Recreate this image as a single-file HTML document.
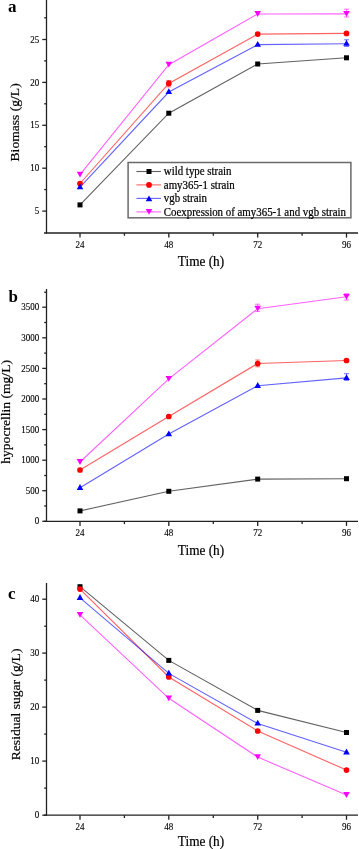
<!DOCTYPE html><html><head><meta charset="utf-8"><style>html,body{margin:0;padding:0;background:#fff;}svg{display:block;will-change:transform;}#w{width:359px;height:849px;overflow:hidden;}</style></head><body><div id="w">
<svg width="359" height="849" viewBox="0 0 359 849" font-family='"Liberation Serif", serif'>
<rect width="359" height="849" fill="#fff"/>
<g stroke="#f0f" stroke-width="1" stroke-opacity="0.55" fill="none"><line x1="344.0" y1="9.2" x2="349.0" y2="9.2"/><line x1="344.0" y1="17.0" x2="349.0" y2="17.0"/><line x1="346.5" y1="9.2" x2="346.5" y2="17.0"/></g>
<g stroke="#00f" stroke-width="1" stroke-opacity="0.55" fill="none"><line x1="344.0" y1="39.8" x2="349.0" y2="39.8"/><line x1="344.0" y1="46.4" x2="349.0" y2="46.4"/><line x1="346.5" y1="39.8" x2="346.5" y2="46.4"/></g>
<g stroke="#f00" stroke-width="1" stroke-opacity="0.55" fill="none"><line x1="166.3" y1="80.5" x2="171.3" y2="80.5"/><line x1="166.3" y1="86.9" x2="171.3" y2="86.9"/><line x1="168.8" y1="80.5" x2="168.8" y2="86.9"/></g>
<g stroke="#f0f" stroke-width="1" stroke-opacity="0.55" fill="none"><line x1="255.2" y1="304.2" x2="260.2" y2="304.2"/><line x1="255.2" y1="311.5" x2="260.2" y2="311.5"/><line x1="257.7" y1="304.2" x2="257.7" y2="311.5"/></g>
<g stroke="#f00" stroke-width="1" stroke-opacity="0.55" fill="none"><line x1="255.2" y1="360.0" x2="260.2" y2="360.0"/><line x1="255.2" y1="366.8" x2="260.2" y2="366.8"/><line x1="257.7" y1="360.0" x2="257.7" y2="366.8"/></g>
<g stroke="#00f" stroke-width="1" stroke-opacity="0.55" fill="none"><line x1="344.0" y1="373.7" x2="349.0" y2="373.7"/><line x1="344.0" y1="380.3" x2="349.0" y2="380.3"/><line x1="346.5" y1="373.7" x2="346.5" y2="380.3"/></g>
<g stroke="#f0f" stroke-width="1" stroke-opacity="0.55" fill="none"><line x1="344.0" y1="293.7" x2="349.0" y2="293.7"/><line x1="344.0" y1="300.0" x2="349.0" y2="300.0"/><line x1="346.5" y1="293.7" x2="346.5" y2="300.0"/></g>
<polyline points="80.00,204.90 168.80,113.20 257.70,64.00 346.50,57.80" fill="none" stroke="#000" stroke-width="1.1" stroke-opacity="0.62"/>
<polyline points="80.00,183.50 168.80,83.40 257.70,34.10 346.50,33.40" fill="none" stroke="#f00" stroke-width="1.1" stroke-opacity="0.62"/>
<polyline points="80.00,187.10 168.80,92.00 257.70,44.60 346.50,43.70" fill="none" stroke="#00f" stroke-width="1.1" stroke-opacity="0.62"/>
<polyline points="80.00,174.60 168.80,64.70 257.70,14.00 346.50,13.90" fill="none" stroke="#f0f" stroke-width="1.1" stroke-opacity="0.62"/>
<rect x="77.50" y="202.40" width="5.0" height="5.0" fill="#000000"/>
<rect x="166.30" y="110.70" width="5.0" height="5.0" fill="#000000"/>
<rect x="255.20" y="61.50" width="5.0" height="5.0" fill="#000000"/>
<rect x="344.00" y="55.30" width="5.0" height="5.0" fill="#000000"/>
<circle cx="80.00" cy="183.50" r="2.85" fill="#ff0000"/>
<circle cx="168.80" cy="83.40" r="2.85" fill="#ff0000"/>
<circle cx="257.70" cy="34.10" r="2.85" fill="#ff0000"/>
<circle cx="346.50" cy="33.40" r="2.85" fill="#ff0000"/>
<polygon points="80.00,183.40 83.30,189.20 76.70,189.20" fill="#0000ff"/>
<polygon points="168.80,88.30 172.10,94.10 165.50,94.10" fill="#0000ff"/>
<polygon points="257.70,40.90 261.00,46.70 254.40,46.70" fill="#0000ff"/>
<polygon points="346.50,40.00 349.80,45.80 343.20,45.80" fill="#0000ff"/>
<polygon points="76.70,171.70 83.30,171.70 80.00,177.50" fill="#ff00ff"/>
<polygon points="165.50,61.80 172.10,61.80 168.80,67.60" fill="#ff00ff"/>
<polygon points="254.40,11.10 261.00,11.10 257.70,16.90" fill="#ff00ff"/>
<polygon points="343.20,11.00 349.80,11.00 346.50,16.80" fill="#ff00ff"/>
<g stroke="#222" stroke-width="1.3" fill="none">
<line x1="46.5" y1="0" x2="46.5" y2="233.6"/>
<line x1="44" y1="233" x2="358" y2="233"/>
<line x1="42.3" y1="39.5" x2="46.5" y2="39.5"/>
<line x1="42.3" y1="82.4" x2="46.5" y2="82.4"/>
<line x1="42.3" y1="125.3" x2="46.5" y2="125.3"/>
<line x1="42.3" y1="168.2" x2="46.5" y2="168.2"/>
<line x1="42.3" y1="211.1" x2="46.5" y2="211.1"/>
<line x1="44.2" y1="17.8" x2="46.5" y2="17.8"/>
<line x1="44.2" y1="60.9" x2="46.5" y2="60.9"/>
<line x1="44.2" y1="103.8" x2="46.5" y2="103.8"/>
<line x1="44.2" y1="146.7" x2="46.5" y2="146.7"/>
<line x1="44.2" y1="189.6" x2="46.5" y2="189.6"/>
<line x1="80" y1="233" x2="80" y2="237.6"/>
<line x1="168.8" y1="233" x2="168.8" y2="237.6"/>
<line x1="257.7" y1="233" x2="257.7" y2="237.6"/>
<line x1="346.5" y1="233" x2="346.5" y2="237.6"/>
<line x1="124.4" y1="233" x2="124.4" y2="235.8"/>
<line x1="213.3" y1="233" x2="213.3" y2="235.8"/>
<line x1="302.1" y1="233" x2="302.1" y2="235.8"/>
</g>
<g font-size="9" fill="#000" stroke="#000" stroke-width="0.12">
<text transform="translate(39.2,42.60) scale(1,1.12)" text-anchor="end">25</text>
<text transform="translate(39.2,85.50) scale(1,1.12)" text-anchor="end">20</text>
<text transform="translate(39.2,128.40) scale(1,1.12)" text-anchor="end">15</text>
<text transform="translate(39.2,171.30) scale(1,1.12)" text-anchor="end">10</text>
<text transform="translate(39.2,214.20) scale(1,1.12)" text-anchor="end">5</text>
<text transform="translate(80,247.80) scale(1,1.12)" text-anchor="middle">24</text>
<text transform="translate(168.8,247.80) scale(1,1.12)" text-anchor="middle">48</text>
<text transform="translate(257.7,247.80) scale(1,1.12)" text-anchor="middle">72</text>
<text transform="translate(346.5,247.80) scale(1,1.12)" text-anchor="middle">96</text>
</g>
<text transform="translate(201,266.1) scale(1,1.06)" text-anchor="middle" font-size="13.3" fill="#000" stroke="#000" stroke-width="0.2">Time (h)</text>
<text transform="translate(18.6,122.4) rotate(-90) scale(1,0.9)" text-anchor="middle" font-size="13.6" fill="#000" stroke="#000" stroke-width="0.2">Biomass (g/L)</text>
<text x="8" y="11.6" font-size="17" font-weight="bold" fill="#000">a</text>
<polyline points="80.00,510.90 168.80,491.30 257.70,479.10 346.50,478.70" fill="none" stroke="#000" stroke-width="1.1" stroke-opacity="0.62"/>
<polyline points="80.00,470.00 168.80,416.50 257.70,363.50 346.50,360.50" fill="none" stroke="#f00" stroke-width="1.1" stroke-opacity="0.62"/>
<polyline points="80.00,487.80 168.80,434.10 257.70,385.80 346.50,377.90" fill="none" stroke="#00f" stroke-width="1.1" stroke-opacity="0.62"/>
<polyline points="80.00,462.00 168.80,378.90 257.70,308.70 346.50,296.80" fill="none" stroke="#f0f" stroke-width="1.1" stroke-opacity="0.62"/>
<rect x="77.50" y="508.40" width="5.0" height="5.0" fill="#000000"/>
<rect x="166.30" y="488.80" width="5.0" height="5.0" fill="#000000"/>
<rect x="255.20" y="476.60" width="5.0" height="5.0" fill="#000000"/>
<rect x="344.00" y="476.20" width="5.0" height="5.0" fill="#000000"/>
<circle cx="80.00" cy="470.00" r="2.85" fill="#ff0000"/>
<circle cx="168.80" cy="416.50" r="2.85" fill="#ff0000"/>
<circle cx="257.70" cy="363.50" r="2.85" fill="#ff0000"/>
<circle cx="346.50" cy="360.50" r="2.85" fill="#ff0000"/>
<polygon points="80.00,484.10 83.30,489.90 76.70,489.90" fill="#0000ff"/>
<polygon points="168.80,430.40 172.10,436.20 165.50,436.20" fill="#0000ff"/>
<polygon points="257.70,382.10 261.00,387.90 254.40,387.90" fill="#0000ff"/>
<polygon points="346.50,374.20 349.80,380.00 343.20,380.00" fill="#0000ff"/>
<polygon points="76.70,459.10 83.30,459.10 80.00,464.90" fill="#ff00ff"/>
<polygon points="165.50,376.00 172.10,376.00 168.80,381.80" fill="#ff00ff"/>
<polygon points="254.40,305.80 261.00,305.80 257.70,311.60" fill="#ff00ff"/>
<polygon points="343.20,293.90 349.80,293.90 346.50,299.70" fill="#ff00ff"/>
<g stroke="#222" stroke-width="1.3" fill="none">
<line x1="46.5" y1="289" x2="46.5" y2="521.9"/>
<line x1="44" y1="521.3" x2="358" y2="521.3"/>
<line x1="42.3" y1="307.2" x2="46.5" y2="307.2"/>
<line x1="42.3" y1="337.8" x2="46.5" y2="337.8"/>
<line x1="42.3" y1="368.4" x2="46.5" y2="368.4"/>
<line x1="42.3" y1="399.0" x2="46.5" y2="399.0"/>
<line x1="42.3" y1="429.6" x2="46.5" y2="429.6"/>
<line x1="42.3" y1="460.2" x2="46.5" y2="460.2"/>
<line x1="42.3" y1="490.7" x2="46.5" y2="490.7"/>
<line x1="42.3" y1="521.3" x2="46.5" y2="521.3"/>
<line x1="44.2" y1="292.2" x2="46.5" y2="292.2"/>
<line x1="44.2" y1="322.5" x2="46.5" y2="322.5"/>
<line x1="44.2" y1="353.1" x2="46.5" y2="353.1"/>
<line x1="44.2" y1="383.7" x2="46.5" y2="383.7"/>
<line x1="44.2" y1="414.3" x2="46.5" y2="414.3"/>
<line x1="44.2" y1="444.9" x2="46.5" y2="444.9"/>
<line x1="44.2" y1="475.5" x2="46.5" y2="475.5"/>
<line x1="44.2" y1="506.0" x2="46.5" y2="506.0"/>
<line x1="80" y1="521.3" x2="80" y2="525.9"/>
<line x1="168.8" y1="521.3" x2="168.8" y2="525.9"/>
<line x1="257.7" y1="521.3" x2="257.7" y2="525.9"/>
<line x1="346.5" y1="521.3" x2="346.5" y2="525.9"/>
<line x1="124.4" y1="521.3" x2="124.4" y2="524.0999999999999"/>
<line x1="213.3" y1="521.3" x2="213.3" y2="524.0999999999999"/>
<line x1="302.1" y1="521.3" x2="302.1" y2="524.0999999999999"/>
</g>
<g font-size="9" fill="#000" stroke="#000" stroke-width="0.12">
<text transform="translate(39.2,310.30) scale(1,1.12)" text-anchor="end">3500</text>
<text transform="translate(39.2,340.90) scale(1,1.12)" text-anchor="end">3000</text>
<text transform="translate(39.2,371.50) scale(1,1.12)" text-anchor="end">2500</text>
<text transform="translate(39.2,402.10) scale(1,1.12)" text-anchor="end">2000</text>
<text transform="translate(39.2,432.70) scale(1,1.12)" text-anchor="end">1500</text>
<text transform="translate(39.2,463.30) scale(1,1.12)" text-anchor="end">1000</text>
<text transform="translate(39.2,493.80) scale(1,1.12)" text-anchor="end">500</text>
<text transform="translate(39.2,524.40) scale(1,1.12)" text-anchor="end">0</text>
<text transform="translate(80,536.40) scale(1,1.12)" text-anchor="middle">24</text>
<text transform="translate(168.8,536.40) scale(1,1.12)" text-anchor="middle">48</text>
<text transform="translate(257.7,536.40) scale(1,1.12)" text-anchor="middle">72</text>
<text transform="translate(346.5,536.40) scale(1,1.12)" text-anchor="middle">96</text>
</g>
<text transform="translate(201,554.5) scale(1,1.06)" text-anchor="middle" font-size="13.3" fill="#000" stroke="#000" stroke-width="0.2">Time (h)</text>
<text transform="translate(10.1,411.9) rotate(-90) scale(1,0.9)" text-anchor="middle" font-size="13.6" fill="#000" stroke="#000" stroke-width="0.2">hypocrellin (mg/L)</text>
<text x="8.6" y="301.9" font-size="17" font-weight="bold" fill="#000">b</text>
<polyline points="80.00,586.70 168.80,660.40 257.70,710.40 346.50,732.50" fill="none" stroke="#000" stroke-width="1.1" stroke-opacity="0.62"/>
<polyline points="80.00,589.10 168.80,677.00 257.70,731.00 346.50,770.10" fill="none" stroke="#f00" stroke-width="1.1" stroke-opacity="0.62"/>
<polyline points="80.00,597.80 168.80,673.40 257.70,723.50 346.50,752.30" fill="none" stroke="#00f" stroke-width="1.1" stroke-opacity="0.62"/>
<polyline points="80.00,614.90 168.80,698.30 257.70,757.10 346.50,795.00" fill="none" stroke="#f0f" stroke-width="1.1" stroke-opacity="0.62"/>
<rect x="77.50" y="584.20" width="5.0" height="5.0" fill="#000000"/>
<rect x="166.30" y="657.90" width="5.0" height="5.0" fill="#000000"/>
<rect x="255.20" y="707.90" width="5.0" height="5.0" fill="#000000"/>
<rect x="344.00" y="730.00" width="5.0" height="5.0" fill="#000000"/>
<circle cx="80.00" cy="589.10" r="2.85" fill="#ff0000"/>
<circle cx="168.80" cy="677.00" r="2.85" fill="#ff0000"/>
<circle cx="257.70" cy="731.00" r="2.85" fill="#ff0000"/>
<circle cx="346.50" cy="770.10" r="2.85" fill="#ff0000"/>
<polygon points="80.00,594.10 83.30,599.90 76.70,599.90" fill="#0000ff"/>
<polygon points="168.80,669.70 172.10,675.50 165.50,675.50" fill="#0000ff"/>
<polygon points="257.70,719.80 261.00,725.60 254.40,725.60" fill="#0000ff"/>
<polygon points="346.50,748.60 349.80,754.40 343.20,754.40" fill="#0000ff"/>
<polygon points="76.70,612.00 83.30,612.00 80.00,617.80" fill="#ff00ff"/>
<polygon points="165.50,695.40 172.10,695.40 168.80,701.20" fill="#ff00ff"/>
<polygon points="254.40,754.20 261.00,754.20 257.70,760.00" fill="#ff00ff"/>
<polygon points="343.20,792.10 349.80,792.10 346.50,797.90" fill="#ff00ff"/>
<g stroke="#222" stroke-width="1.3" fill="none">
<line x1="46.5" y1="583" x2="46.5" y2="815.8000000000001"/>
<line x1="44" y1="815.2" x2="358" y2="815.2"/>
<line x1="42.3" y1="599.2" x2="46.5" y2="599.2"/>
<line x1="42.3" y1="653.1" x2="46.5" y2="653.1"/>
<line x1="42.3" y1="707.1" x2="46.5" y2="707.1"/>
<line x1="42.3" y1="761.1" x2="46.5" y2="761.1"/>
<line x1="42.3" y1="815.2" x2="46.5" y2="815.2"/>
<line x1="44.2" y1="626.2" x2="46.5" y2="626.2"/>
<line x1="44.2" y1="680.1" x2="46.5" y2="680.1"/>
<line x1="44.2" y1="734.1" x2="46.5" y2="734.1"/>
<line x1="44.2" y1="788.1" x2="46.5" y2="788.1"/>
<line x1="80" y1="815.2" x2="80" y2="819.8000000000001"/>
<line x1="168.8" y1="815.2" x2="168.8" y2="819.8000000000001"/>
<line x1="257.7" y1="815.2" x2="257.7" y2="819.8000000000001"/>
<line x1="346.5" y1="815.2" x2="346.5" y2="819.8000000000001"/>
<line x1="124.4" y1="815.2" x2="124.4" y2="818.0"/>
<line x1="213.3" y1="815.2" x2="213.3" y2="818.0"/>
<line x1="302.1" y1="815.2" x2="302.1" y2="818.0"/>
</g>
<g font-size="9" fill="#000" stroke="#000" stroke-width="0.12">
<text transform="translate(39.2,602.30) scale(1,1.12)" text-anchor="end">40</text>
<text transform="translate(39.2,656.20) scale(1,1.12)" text-anchor="end">30</text>
<text transform="translate(39.2,710.20) scale(1,1.12)" text-anchor="end">20</text>
<text transform="translate(39.2,764.20) scale(1,1.12)" text-anchor="end">10</text>
<text transform="translate(39.2,818.30) scale(1,1.12)" text-anchor="end">0</text>
<text transform="translate(80,829.80) scale(1,1.12)" text-anchor="middle">24</text>
<text transform="translate(168.8,829.80) scale(1,1.12)" text-anchor="middle">48</text>
<text transform="translate(257.7,829.80) scale(1,1.12)" text-anchor="middle">72</text>
<text transform="translate(346.5,829.80) scale(1,1.12)" text-anchor="middle">96</text>
</g>
<text transform="translate(201,846.0) scale(1,1.06)" text-anchor="middle" font-size="13.3" fill="#000" stroke="#000" stroke-width="0.2">Time (h)</text>
<text transform="translate(20.1,704.4) rotate(-90) scale(1,0.9)" text-anchor="middle" font-size="13.6" fill="#000" stroke="#000" stroke-width="0.2">Residual sugar (g/L)</text>
<text x="8" y="599.2" font-size="17" font-weight="bold" fill="#000">c</text>
<rect x="128.1" y="162.5" width="222.8" height="55.3" fill="#fff" stroke="#6a6a6a" stroke-width="1.5"/>
<line x1="136.4" y1="171.5" x2="161" y2="171.5" stroke="#000" stroke-width="1.1" stroke-opacity="0.62"/>
<rect x="146.50" y="169.00" width="5.0" height="5.0" fill="#000000"/>
<text transform="translate(163.8,175.30) scale(1,1.1)" font-size="10.9" fill="#000" stroke="#000" stroke-width="0.2">wild type strain</text>
<line x1="136.4" y1="184.9" x2="161" y2="184.9" stroke="#f00" stroke-width="1.1" stroke-opacity="0.62"/>
<circle cx="149.00" cy="184.90" r="2.85" fill="#ff0000"/>
<text transform="translate(163.8,188.70) scale(1,1.1)" font-size="10.9" fill="#000" stroke="#000" stroke-width="0.2">amy365-1 strain</text>
<line x1="136.4" y1="198.4" x2="161" y2="198.4" stroke="#00f" stroke-width="1.1" stroke-opacity="0.62"/>
<polygon points="149.00,195.50 152.30,201.30 145.70,201.30" fill="#0000ff"/>
<text transform="translate(163.8,202.20) scale(1,1.1)" font-size="10.9" fill="#000" stroke="#000" stroke-width="0.2">vgb strain</text>
<line x1="136.4" y1="211.9" x2="161" y2="211.9" stroke="#f0f" stroke-width="1.1" stroke-opacity="0.62"/>
<polygon points="145.70,209.00 152.30,209.00 149.00,214.80" fill="#ff00ff"/>
<text transform="translate(163.8,215.70) scale(1,1.1)" font-size="10.9" fill="#000" stroke="#000" stroke-width="0.2">Coexpression of amy365-1 and vgb strain</text>
</svg></div></body></html>
